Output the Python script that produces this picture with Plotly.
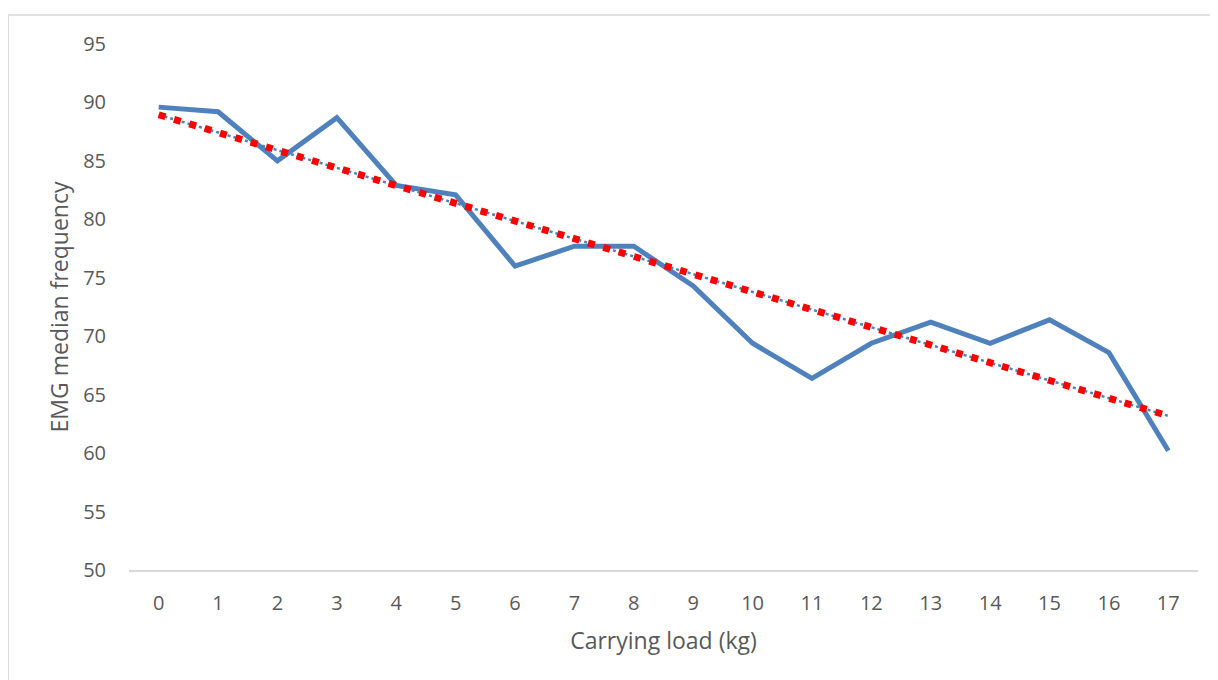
import numpy as np
import plotly.graph_objects as go

loads = list(range(18))
emg_median = [89.6, 89.2, 85.0, 88.7, 82.9, 82.1, 76.0, 77.7, 77.7, 74.3,
              69.4, 66.4, 69.4, 71.2, 69.4, 71.4, 68.6, 60.2]

# linear trendline fitted to the data
slope, intercept = np.polyfit(loads, emg_median, 1)
trend = [slope * x + intercept for x in loads]

fig = go.Figure()
fig.add_trace(go.Scatter(x=loads, y=emg_median, mode="lines",
                         line=dict(color="#4F81BD", width=5), showlegend=False))
fig.add_trace(go.Scatter(x=loads, y=trend, mode="lines",
                         line=dict(color="#4F81BD", width=2.5, dash="dot"), showlegend=False))
fig.add_trace(go.Scatter(x=loads, y=trend, mode="lines",
                         line=dict(color="#FF0000", width=7, dash="7px,9px"), showlegend=False))

font = "'Open Sans', sans-serif"
fig.update_layout(
    width=1218, height=680,
    margin=dict(l=121, r=28, t=36, b=118),
    plot_bgcolor="white", paper_bgcolor="white",
    font=dict(family=font, color="#595959", size=20),
    xaxis=dict(range=[-0.5, 17.5], tickmode="array", tickvals=loads,
               ticktext=[str(v) for v in loads], showgrid=False, zeroline=False,
               showline=True, linecolor="#D9D9D9", linewidth=1.5,
               ticks="", ticklabelstandoff=14,
               title=dict(text="Carrying load (kg)", font=dict(size=23), standoff=18)),
    yaxis=dict(range=[50, 95], dtick=5, showgrid=False, zeroline=False,
               showline=False, ticks="", ticklabelstandoff=22,
               title=dict(text="EMG median frequency", font=dict(size=23), standoff=8)),
    shapes=[dict(type="rect", xref="paper", yref="paper",
                 x0=-0.113, x1=1.016, y0=-0.225, y1=1.055,
                 line=dict(color="#D9D9D9", width=1.5), fillcolor="rgba(0,0,0,0)",
                 layer="below")],
)

fig.write_html("out.html")
